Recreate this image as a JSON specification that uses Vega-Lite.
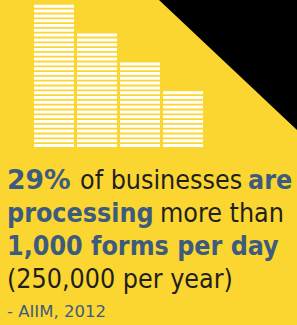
{
  "$schema": "https://vega.github.io/schema/vega-lite/v6.json",
  "width": 297,
  "height": 325,
  "padding": 0,
  "autosize": {"type": "none"},
  "background": "#FBD630",
  "config": {"view": {"stroke": null}},
  "datasets": {
    "bars": [
      {"cat": "A", "stacks": 30},
      {"cat": "B", "stacks": 24},
      {"cat": "C", "stacks": 18},
      {"cat": "D", "stacks": 12}
    ],
    "corner": [
      {"cx": 159, "edge": 0, "top": 0},
      {"cx": 297, "edge": 130, "top": 0}
    ],
    "copy": [
      {"text": "29%", "line": 1, "x": 7, "emphasis": "figure"},
      {"text": "of businesses", "line": 1, "x": 80, "emphasis": "normal"},
      {"text": "are", "line": 1, "x": 248, "emphasis": "strong"},
      {"text": "processing", "line": 2, "x": 7, "emphasis": "strong"},
      {"text": "more than", "line": 2, "x": 160, "emphasis": "normal"},
      {"text": "1,000 forms per day", "line": 3, "x": 7, "emphasis": "strong"},
      {"text": "(250,000 per year)", "line": 4, "x": 7, "emphasis": "normal"},
      {"text": "- AIIM, 2012", "line": 5, "x": 7, "emphasis": "source"}
    ]
  },
  "layer": [
    {
      "data": {"name": "corner"},
      "mark": {"type": "area", "color": "#000000", "opacity": 1},
      "encoding": {
        "x": {"field": "cx", "type": "quantitative", "scale": {"domain": [0, 297], "nice": false, "zero": false}, "axis": null},
        "y": {"field": "edge", "type": "quantitative", "scale": {"domain": [0, 325], "nice": false, "zero": false, "reverse": true}, "axis": null},
        "y2": {"field": "top"}
      }
    },
    {
      "data": {"name": "bars"},
      "mark": {"type": "rule", "color": "#FFFFFF", "strokeWidth": 40, "strokeDash": [3, 1.8], "strokeCap": "butt", "opacity": 1},
      "encoding": {
        "x": {"field": "cat", "type": "nominal", "scale": {"type": "point", "padding": 0, "range": [54, 183]}, "axis": null},
        "y": {"field": "stacks", "type": "quantitative", "scale": {"domain": [-36.708, 30.999], "nice": false, "zero": false}, "axis": null},
        "y2": {"datum": 0}
      }
    },
    {
      "data": {"name": "copy"},
      "transform": [{"filter": "datum.emphasis == 'figure'"}],
      "mark": {"type": "text", "align": "left", "baseline": "alphabetic", "font": "DejaVu Sans, sans-serif", "fontWeight": "bold", "fontSize": 26.6, "color": "#3D5B7F"},
      "encoding": {
        "x": {"field": "x", "type": "quantitative", "scale": {"domain": [0, 297], "nice": false, "zero": false}, "axis": null},
        "y": {"field": "line", "type": "quantitative", "scale": {"domain": [-4.727, 5.121], "nice": false, "zero": false, "reverse": true}, "axis": null},
        "text": {"field": "text"}
      }
    },
    {
      "data": {"name": "copy"},
      "transform": [{"filter": "datum.emphasis == 'strong'"}],
      "mark": {"type": "text", "align": "left", "baseline": "alphabetic", "font": "DejaVu Sans Condensed, DejaVu Sans, sans-serif", "fontWeight": "bold", "fontSize": 26.6, "color": "#3D5B7F"},
      "encoding": {
        "x": {"field": "x", "type": "quantitative", "scale": {"domain": [0, 297], "nice": false, "zero": false}, "axis": null},
        "y": {"field": "line", "type": "quantitative", "scale": {"domain": [-4.727, 5.121], "nice": false, "zero": false, "reverse": true}, "axis": null},
        "text": {"field": "text"}
      }
    },
    {
      "data": {"name": "copy"},
      "transform": [{"filter": "datum.emphasis == 'normal'"}],
      "mark": {"type": "text", "align": "left", "baseline": "alphabetic", "font": "DejaVu Sans Condensed, DejaVu Sans, sans-serif", "fontWeight": "normal", "fontSize": 26.6, "color": "#1F1F1F"},
      "encoding": {
        "x": {"field": "x", "type": "quantitative", "scale": {"domain": [0, 297], "nice": false, "zero": false}, "axis": null},
        "y": {"field": "line", "type": "quantitative", "scale": {"domain": [-4.727, 5.121], "nice": false, "zero": false, "reverse": true}, "axis": null},
        "text": {"field": "text"}
      }
    },
    {
      "data": {"name": "copy"},
      "transform": [{"filter": "datum.emphasis == 'source'"}],
      "mark": {"type": "text", "align": "left", "baseline": "alphabetic", "dy": -4, "font": "DejaVu Sans, sans-serif", "fontWeight": "normal", "fontSize": 16.5, "color": "#3D5B7F"},
      "encoding": {
        "x": {"field": "x", "type": "quantitative", "scale": {"domain": [0, 297], "nice": false, "zero": false}, "axis": null},
        "y": {"field": "line", "type": "quantitative", "scale": {"domain": [-4.727, 5.121], "nice": false, "zero": false, "reverse": true}, "axis": null},
        "text": {"field": "text"}
      }
    }
  ],
  "resolve": {"scale": {"x": "independent", "y": "independent"}}
}
